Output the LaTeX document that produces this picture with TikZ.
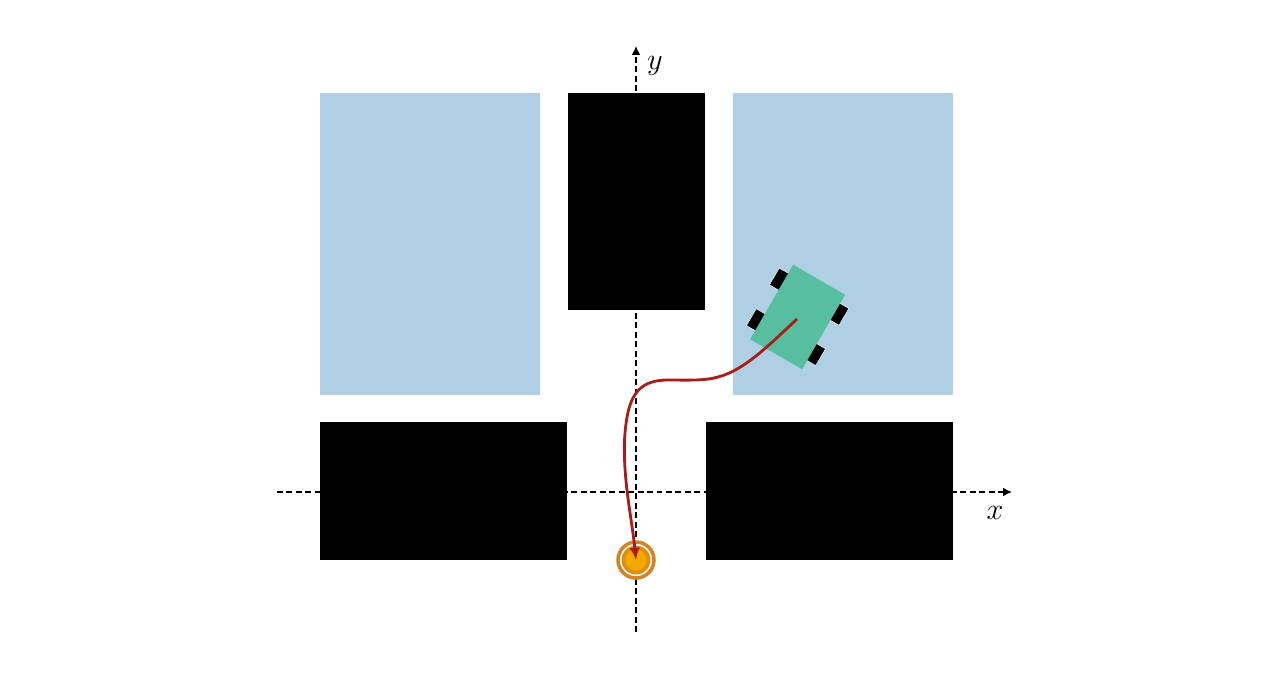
\documentclass[tikz,border=0pt]{standalone}
\usepackage{amssymb,amsmath}
\usepackage{tikz}
\usetikzlibrary{arrows.meta}

\definecolor{regionblue}{HTML}{AECFE4}
\definecolor{cargreen}{HTML}{57BFA0}
\definecolor{pathred}{HTML}{A81C1C}
\definecolor{goalring}{HTML}{D08428}
\definecolor{goalmid}{HTML}{DD8F10}
\definecolor{goalfill}{HTML}{F5A800}

\begin{document}
\begin{tikzpicture}[x=0.02cm,y=-0.02cm,
    region/.style={fill=regionblue},
    wall/.style={fill=black},
    axis/.style={line width=1.1pt,dash pattern=on 3.4pt off 2pt,-{Latex[length=5pt,width=5pt]}},
    carbody/.style={rectangle,fill=cargreen,rotate=-30,minimum width=1.2cm,minimum height=1.72cm,inner sep=0pt},
    wheel/.style={rectangle,fill=black,draw=white,line width=0.3pt,rotate=-30,minimum width=0.23cm,minimum height=0.39cm,inner sep=0pt},
    axislabel/.style={font=\fontsize{17}{20}\selectfont,inner sep=0pt}]

\useasboundingbox (0,0) rectangle (1280,674);

% free ends of the axes
\coordinate (xl) at (277,492);
\coordinate (xr) at (1012,492);
\coordinate (yb) at (636,632);
\coordinate (yt) at (636,46);

\fill[region] (320,93) rectangle (540,395);
\fill[region] (733,93) rectangle (953,395);

\draw[axis] (xl) -- (xr);
\draw[axis] (yb) -- (yt);

\fill[wall] (568,93) rectangle (705,310);
\fill[wall] (320,422) rectangle (567,560);
\fill[wall] (706,422) rectangle (953,560);

\node[axislabel] (xlabel) at (995,513) {$x$};
\node[axislabel] (ylabel) at (655,66) {$y$};

% goal
\node[circle,draw=goalring,line width=2pt,fill=white,minimum size=0.72cm,inner sep=0pt] (goalout) at (636,560) {};
\node[circle,fill=goalmid,minimum size=0.58cm,inner sep=0pt] (goalmid) at (636,560) {};
\node[circle,fill=goalfill,minimum size=0.42cm,inner sep=0pt] (goal) at (636,560) {};

% car
\node[wheel] (w1) at (779.3,279.3) {};
\node[wheel] (w2) at (756.3,320) {};
\node[wheel] (w3) at (839,314) {};
\node[wheel] (w4) at (815.7,354.3) {};
\node[carbody] (car) at (797.6,317) {};

\coordinate (start) at (797,319);
\coordinate (flat) at (718,377);
\coordinate (top) at (668,380);
\coordinate (side) at (624.5,440);
\draw[pathred,line width=1.6pt,-{Latex[length=7pt,width=6pt]}] (start)
    .. controls (770,344) and (745,370) .. (flat)
    .. controls (705,381) and (685,380) .. (top)
    .. controls (636,380) and (627,398) .. (side)
    .. controls (623,480) and (632,520) .. (goal.center);
\end{tikzpicture}
\end{document}
